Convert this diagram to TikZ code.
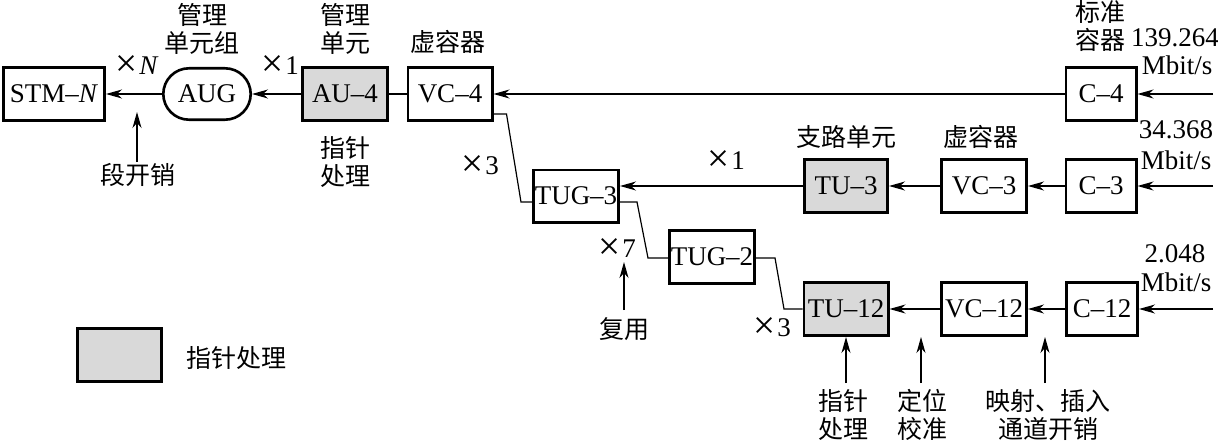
\documentclass[tikz,border=0pt]{standalone}
\usepackage{fontspec}
\setmainfont{Liberation Serif}
\newfontfamily\cjk{Noto Sans CJK SC}
\usetikzlibrary{arrows.meta,shapes.misc}
\definecolor{ptrgray}{HTML}{D9D9D9}
\newcommand\myfs{\fontsize{25}{28}\selectfont}
\newcommand\latfs{\fontsize{27}{29}\selectfont}
\newcommand\bigx{\raisebox{-2pt}{\scalebox{1.45}{×}}\kern2pt}
\begin{document}
\begin{tikzpicture}[x=1pt,y=-1pt,
  box/.style={draw,line width=2.6pt,inner sep=0pt,minimum height=53.4pt,font=\latfs},
  ptr/.style={box,fill=ptrgray},
  conn/.style={line width=1.2pt},
  arr/.style={line width=1.2pt,-{Stealth[length=16pt,width=9pt,inset=5pt]}},
  lbl/.style={font=\myfs\cjk,align=center,inner sep=0pt},
  num/.style={font=\latfs,align=center,inner sep=0pt}]
\useasboundingbox (0,0) rectangle (1218,444);
% row 1
\node[box,minimum width=101.4pt] (STM) at (54,94) {STM--\textit{N}};
\node[box,shape=rounded rectangle,minimum width=87.4pt,minimum height=51.4pt] (AUG) at (207,94) {AUG};
\node[ptr,minimum width=85.4pt] (AU4) at (345,94) {AU--4};
\node[box,minimum width=84.4pt] (VC4) at (450,94) {VC--4};
\node[box,minimum width=70.4pt] (C4) at (1101,94) {C--4};
% row 2
\node[box,minimum width=85.4pt,minimum height=52.4pt] (TUG3) at (576,196) {TUG--3};
\node[ptr,minimum width=83.4pt] (TU3) at (846,186) {TU--3};
\node[box,minimum width=85.4pt] (VC3) at (984,186) {VC--3};
\node[box,minimum width=70.4pt] (C3) at (1101,186) {C--3};
% row 3
\node[box,minimum width=85.4pt] (TUG2) at (712,257) {TUG--2};
\node[ptr,minimum width=84.4pt] (TU12) at (846,309) {TU--12};
\node[box,minimum width=85.4pt] (VC12) at (984,309) {VC--12};
\node[box,minimum width=71.4pt] (C12) at (1102,309) {C--12};
% legend
\node[ptr,minimum width=84.4pt] (LEG) at (119.5,355) {};
\node[lbl,anchor=west] (LEGT) at (186,358) {指针处理};
% inputs
\coordinate (in1) at (1213,94);
\coordinate (in2) at (1213,186);
\coordinate (in3) at (1213,309);
% connectors row 1
\draw[arr] (AUG.west) -- (STM.east);
\draw[arr] (AU4.west) -- (AUG.east);
\draw[conn] (VC4.west) -- (AU4.east);
\draw[arr] (C4.west) -- (VC4.east);
\draw[arr] (in1) -- (C4.east);
% row 2
\draw[arr] (in2) -- (C3.east);
\draw[arr] (C3.west) -- (VC3.east);
\draw[arr] (VC3.west) -- (TU3.east);
\draw[arr] (TU3.west) -- (TUG3.east |- TU3.west);
% row 3
\draw[arr] (in3) -- (C12.east);
\draw[arr] (C12.west) -- (VC12.east);
\draw[arr] (VC12.west) -- (TU12.east);
% multiplexing links
\draw[conn] ([yshift=-20pt]VC4.east) -- ++(13,0) -- (521,202) -- (TUG3.west |- 0,202);
\draw[conn] (TUG3.east |- 0,202) -- (637,202) -- (648,258) -- (TUG2.west |- 0,258);
\draw[conn] (TUG2.east |- 0,258) -- (775,258) -- (784,309) -- (TU12.west);
% vertical arrows
\coordinate (soh) at (137,162);
\coordinate (sohtip) at (137,112);
\draw[arr] (soh) -- (sohtip);
\coordinate (mux) at (624,310);
\coordinate (muxtip) at (624,262);
\draw[arr] (mux) -- (muxtip);
\draw[arr] (TU12.south |- 0,383) -- (TU12.south);
\coordinate (pos) at (921,383);
\coordinate (postip) at (921,337);
\draw[arr] (pos) -- (postip);
\coordinate (map) at (1045,383);
\coordinate (maptip) at (1045,337);
\draw[arr] (map) -- (maptip);
% labels
\node[num] (xN) at (137,66) {\bigx\textit{N}};
\node[num] (x1a) at (280,66) {\bigx 1};
\node[lbl] (l1) at (202,29) {管理\\单元组};
\node[lbl] (l2) at (345,29) {管理\\单元};
\node[lbl] (l3) at (345,162) {指针\\处理};
\node[lbl] (l4) at (138,175) {段开销};
\node[lbl] (l5) at (448,42) {虚容器};
\node[lbl] (l6) at (1100,26) {标准\\容器};
\node[num] (r1) at (1175,38) {139.264};
\node[num] (r1u) at (1177,65) {Mbit/s};
\node[num] (x3a) at (480,166) {\bigx 3};
\node[num] (x1b) at (726,161) {\bigx 1};
\node[lbl] (l7) at (846,137) {支路单元};
\node[lbl] (l8) at (981,137) {虚容器};
\node[num] (r2) at (1176,130) {34.368};
\node[num] (r2u) at (1176,160) {Mbit/s};
\node[num] (x7) at (617,249) {\bigx 7};
\node[lbl] (l9) at (624,329) {复用};
\node[num] (x3b) at (772,328) {\bigx 3};
\node[num] (r3) at (1175,254) {2.048};
\node[num] (r3u) at (1176,282) {Mbit/s};
\node[lbl] (l10) at (843,415) {指针\\处理};
\node[lbl] (l11) at (922,415) {定位\\校准};
\node[lbl] (l12) at (1048,415) {映射、插入\\通道开销};
\end{tikzpicture}
\end{document}
